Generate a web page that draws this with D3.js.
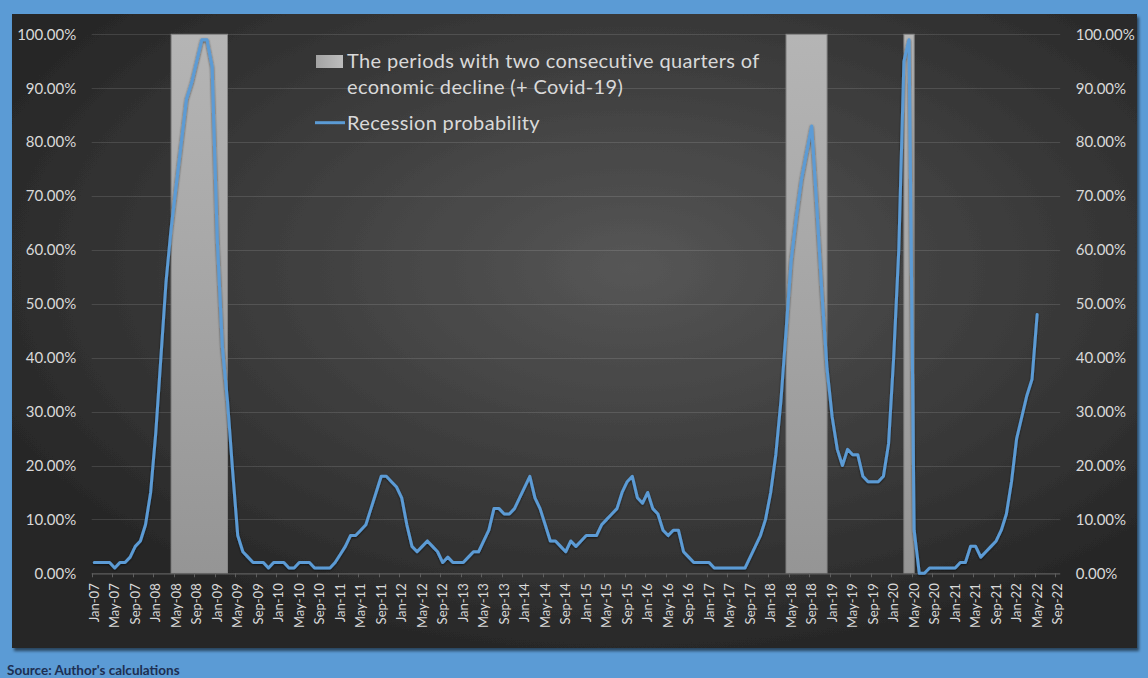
<!DOCTYPE html>
<html>
<head>
<meta charset="utf-8">
<script src="https://cdn.jsdelivr.net/npm/d3@7"></script>
<style>
  html, body { margin: 0; padding: 0; background: #5b9bd5; }
  svg { display: block; }
  text { font-family: Lato, "Open Sans", sans-serif; }
</style>
</head>
<body>
<svg id="chart" width="1148" height="678"></svg>
<script>
// Monthly category axis: Jan-07 .. Sep-22
const firstMonth = new Date(2007, 0, 1);
const lastMonth = new Date(2022, 8, 1);

// Recession probability (%), monthly from Jan-07 to May-22
const probability = [
  2, 2, 2, 2, 1, 2, 2, 3, 5, 6, 9, 15,            // 2007
  26, 40, 54, 64, 72, 80, 88, 91, 95, 99, 99, 94,  // 2008
  62, 42, 32, 19, 7, 4, 3, 2, 2, 2, 1, 2,          // 2009
  2, 2, 1, 1, 2, 2, 2, 1, 1, 1, 1, 2,              // 2010
  3.5, 5, 7, 7, 8, 9, 12, 15, 18, 18, 17, 16,      // 2011
  14, 9, 5, 4, 5, 6, 5, 4, 2, 3, 2, 2,             // 2012
  2, 3, 4, 4, 6, 8, 12, 12, 11, 11, 12, 14,        // 2013
  16, 18, 14, 12, 9, 6, 6, 5, 4, 6, 5, 6,          // 2014
  7, 7, 7, 9, 10, 11, 12, 15, 17, 18, 14, 13,      // 2015
  15, 12, 11, 8, 7, 8, 8, 4, 3, 2, 2, 2,           // 2016
  2, 1, 1, 1, 1, 1, 1, 1, 3, 5, 7, 10,             // 2017
  15, 22, 32, 45, 58, 66, 73, 78, 83, 68, 52, 38,  // 2018
  29, 23, 20, 23, 22, 22, 18, 17, 17, 17, 18, 24,  // 2019
  40, 60, 95, 99, 8, 0, 0, 1, 1, 1, 1, 1,          // 2020
  1, 2, 2, 5, 5, 3, 4, 5, 6, 8, 11, 17,            // 2021
  25, 29, 33, 36, 48                               // 2022
];

// Periods with two consecutive quarters of decline (+ Covid-19), plotted at 100%
const periodStart = ["Apr-08", "Apr-18", "Mar-20"];
const periodEnd   = ["Mar-09", "Dec-18", "May-20"];
const periodLevel = 1;

const yTicks = [0, 0.1, 0.2, 0.3, 0.4, 0.5, 0.6, 0.7, 0.8, 0.9, 1.0];
const legendArea = ["The periods with two consecutive quarters of", "economic decline (+ Covid-19)"];
const legendLine = "Recession probability";
const sourceNote = "Source: Author's calculations";

const fmtMonth = d3.timeFormat("%b-%y");
const months = d3.timeMonth.range(firstMonth, d3.timeMonth.offset(lastMonth, 1)).map(fmtMonth);
const tickMonths = months.filter((d, i) => i % 4 === 0);

const svg = d3.select("#chart");
const plot = { l: 91.7, r: 1060.2, t: 34.3, b: 573.3 };
const x = d3.scaleBand().domain(months).range([plot.l, plot.r]).padding(0);
const y = d3.scaleLinear().domain([0, 1]).range([plot.b, plot.t]);
const y2 = d3.scaleLinear().domain([0, 1]).range([plot.b, plot.t]);
const xc = d => x(d) + x.bandwidth() / 2;

const defs = svg.append("defs");
const bg = defs.append("radialGradient").attr("id", "bgGrad")
  .attr("cx", "55%").attr("cy", "40%").attr("r", "62%");
bg.append("stop").attr("offset", "0%").attr("stop-color", "#565656");
bg.append("stop").attr("offset", "100%").attr("stop-color", "#272727");

const shade = defs.append("linearGradient").attr("id", "shadeGrad")
  .attr("x1", 0).attr("y1", 0).attr("x2", 0).attr("y2", 1);
shade.append("stop").attr("offset", "0%").attr("stop-color", "#b5b5b5");
shade.append("stop").attr("offset", "100%").attr("stop-color", "#959595");

const swatch = defs.append("linearGradient").attr("id", "swatchGrad")
  .attr("x1", 0).attr("y1", 0).attr("x2", 1).attr("y2", 0);
swatch.append("stop").attr("offset", "0%").attr("stop-color", "#a3a3a3");
swatch.append("stop").attr("offset", "100%").attr("stop-color", "#bdbdbd");

const boxShadow = defs.append("filter").attr("id", "boxShadow")
  .attr("x", "-2%").attr("y", "-2%").attr("width", "104%").attr("height", "106%");
boxShadow.append("feDropShadow").attr("dx", 2).attr("dy", 3).attr("stdDeviation", 1.5)
  .attr("flood-color", "#000").attr("flood-opacity", 0.55);

const lineShadow = defs.append("filter").attr("id", "lineShadow")
  .attr("x", "-5%").attr("y", "-5%").attr("width", "110%").attr("height", "110%");
lineShadow.append("feDropShadow").attr("dx", 0).attr("dy", 1).attr("stdDeviation", 1.2)
  .attr("flood-color", "#000").attr("flood-opacity", 0.6);

// chart area
svg.append("rect").attr("x", 12).attr("y", 14).attr("width", 1125).attr("height", 634)
  .attr("fill", "url(#bgGrad)").attr("filter", "url(#boxShadow)");

// gridlines
svg.append("g").selectAll("line").data(yTicks.filter(v => v > 0)).join("line")
  .attr("x1", plot.l).attr("x2", plot.r)
  .attr("y1", d => Math.round(y(d)) + 0.5).attr("y2", d => Math.round(y(d)) + 0.5)
  .attr("stroke", "#ffffff").attr("stroke-opacity", 0.12).attr("stroke-width", 1);

// shaded periods (secondary axis)
svg.append("g").selectAll("rect").data(periodStart.map((s, i) => ({ s, e: periodEnd[i] }))).join("rect")
  .attr("x", d => xc(d.s))
  .attr("width", d => xc(d.e) - xc(d.s))
  .attr("y", y2(periodLevel))
  .attr("height", y2(0) - y2(periodLevel))
  .attr("fill", "url(#shadeGrad)")
  .attr("stroke", "#868686").attr("stroke-width", 1);

// category axis line and ticks
svg.append("line").attr("x1", plot.l).attr("x2", plot.r)
  .attr("y1", plot.b + 0.5).attr("y2", plot.b + 0.5)
  .attr("stroke", "#5e5e5e").attr("stroke-width", 1.2);
svg.append("g").selectAll("line").data(tickMonths).join("line")
  .attr("x1", d => Math.round(x(d)) + 0.5).attr("x2", d => Math.round(x(d)) + 0.5)
  .attr("y1", plot.b).attr("y2", plot.b + 4)
  .attr("stroke", "#5e5e5e");

const xAxis = svg.append("g").attr("transform", `translate(0,${plot.b})`)
  .call(d3.axisBottom(x).tickValues(tickMonths).tickSize(0));
xAxis.select(".domain").remove();
xAxis.selectAll("text")
  .attr("transform", "rotate(-90)")
  .attr("text-anchor", "end")
  .attr("x", -10).attr("y", 0).attr("dy", "0.35em")
  .attr("fill", "#d9d9d9").style("font-size", "13px").style("font-family", "Lato, sans-serif");

// value axes
const pct = d3.format(".2%");
const yLeft = svg.append("g").attr("transform", `translate(${plot.l},0)`)
  .call(d3.axisLeft(y).tickValues(yTicks).tickFormat(pct).tickSize(0).tickPadding(15.5));
yLeft.select(".domain").remove();
yLeft.selectAll("text").attr("fill", "#d9d9d9").style("font-size", "15px").style("font-family", "Lato, sans-serif");

const yRight = svg.append("g").attr("transform", `translate(${plot.r},0)`)
  .call(d3.axisRight(y2).tickValues(yTicks).tickFormat(pct).tickSize(0).tickPadding(15.5));
yRight.select(".domain").remove();
yRight.selectAll("text").attr("fill", "#d9d9d9").style("font-size", "15px").style("font-family", "Lato, sans-serif");

// probability line
const line = d3.line()
  .x((d, i) => xc(months[i]))
  .y(d => y(d / 100));
svg.append("path").datum(probability)
  .attr("d", line)
  .attr("fill", "none")
  .attr("stroke", "#5b9bd5")
  .attr("stroke-width", 3)
  .attr("stroke-linejoin", "round")
  .attr("stroke-linecap", "round")
  .attr("filter", "url(#lineShadow)");

// legend
const legend = svg.append("g");
legend.append("rect").attr("x", 316).attr("y", 55).attr("width", 27).attr("height", 13)
  .attr("fill", "url(#swatchGrad)");
legend.append("text").attr("x", 347).attr("y", 67.5)
  .attr("fill", "#d9d9d9").style("font-size", "20px").style("letter-spacing", "0.35px")
  .selectAll("tspan").data(legendArea).join("tspan")
  .attr("x", 347).attr("dy", (d, i) => i === 0 ? 0 : 26.5)
  .text(d => d);
legend.append("line").attr("x1", 315).attr("x2", 345).attr("y1", 122.7).attr("y2", 122.7)
  .attr("stroke", "#5b9bd5").attr("stroke-width", 3);
legend.append("text").attr("x", 347).attr("y", 129.5)
  .attr("fill", "#d9d9d9").style("font-size", "20px").style("letter-spacing", "0.35px")
  .text(legendLine);

// source note
svg.append("text").attr("x", 7).attr("y", 675)
  .attr("fill", "#1d2f52").style("font-size", "13.5px").style("font-weight", "bold")
  .text(sourceNote);
</script>
</body>
</html>
